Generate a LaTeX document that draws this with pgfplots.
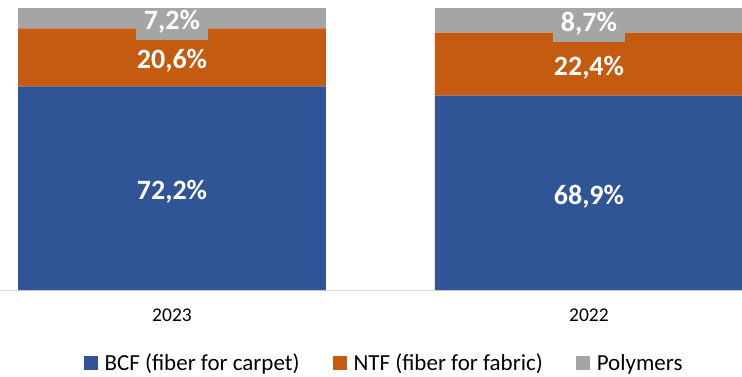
\documentclass[border=0pt]{standalone}
\usepackage{pgfplots}
\pgfplotsset{compat=1.18}
\usepackage{fontspec}
\setmainfont{Carlito}

\definecolor{bcfblue}{HTML}{2F5597}
\definecolor{ntforange}{HTML}{C55A11}
\definecolor{polygray}{HTML}{A5A5A5}
\definecolor{axisgray}{HTML}{D9D9D9}

\begin{document}
\begin{tikzpicture}
\useasboundingbox (0pt,0pt) rectangle (742pt,376pt);
\begin{axis}[
  at={(0pt,86pt)}, anchor=south west,
  scale only axis, width=742pt, height=290pt,
  ybar stacked, bar width=0.7386,
  xmin=-0.4125, xmax=1.367,
  ymin=0, ymax=102.84,
  axis y line=none,
  axis x line*=bottom,
  x axis line style={draw=axisgray, line width=1pt, -},
  xtick={0,1}, xticklabels={2023,2022},
  major tick length=0pt,
  xticklabel style={font=\fontsize{19.5}{22}\selectfont, anchor=center, yshift=-25pt},
  point meta=rawy,
  nodes near coords={\pgfmathprintnumber[use comma,fixed,fixed zerofill,precision=1,assume math mode=true]{\pgfplotspointmeta}\%},
  every node near coord/.append style={
    font=\fontsize{28}{30}\selectfont\bfseries, text=white,
    anchor=center, text height=0.64em, text depth=0pt, yshift=-8pt},
  legend columns=3,
  legend style={draw=none, fill=none, at={(0.5162,-0.2517)}, anchor=center,
    font=\fontsize{23}{25}\selectfont,
    nodes={inner xsep=0pt},
    /tikz/every odd column/.append style={column sep=7pt},
    /tikz/every even column/.append style={column sep=33pt}},
  legend image code/.code={\fill[#1] (0pt,-7pt) rectangle (14pt,7pt);},
]
\addplot[fill=bcfblue, draw=none] coordinates {(0,72.2) (1,68.9)};
\addlegendentry{BCF (fiber for carpet)}
\addplot[fill=ntforange, draw=none] coordinates {(0,20.6) (1,22.4)};
\addlegendentry{NTF (fiber for fabric)}
\addplot[fill=polygray, draw=none,
  every node near coord/.append style={fill=polygray, inner xsep=8pt, inner ysep=11pt}]
  coordinates {(0,7.2) (1,8.7)};
\addlegendentry{Polymers}
\end{axis}
\end{tikzpicture}
\end{document}
